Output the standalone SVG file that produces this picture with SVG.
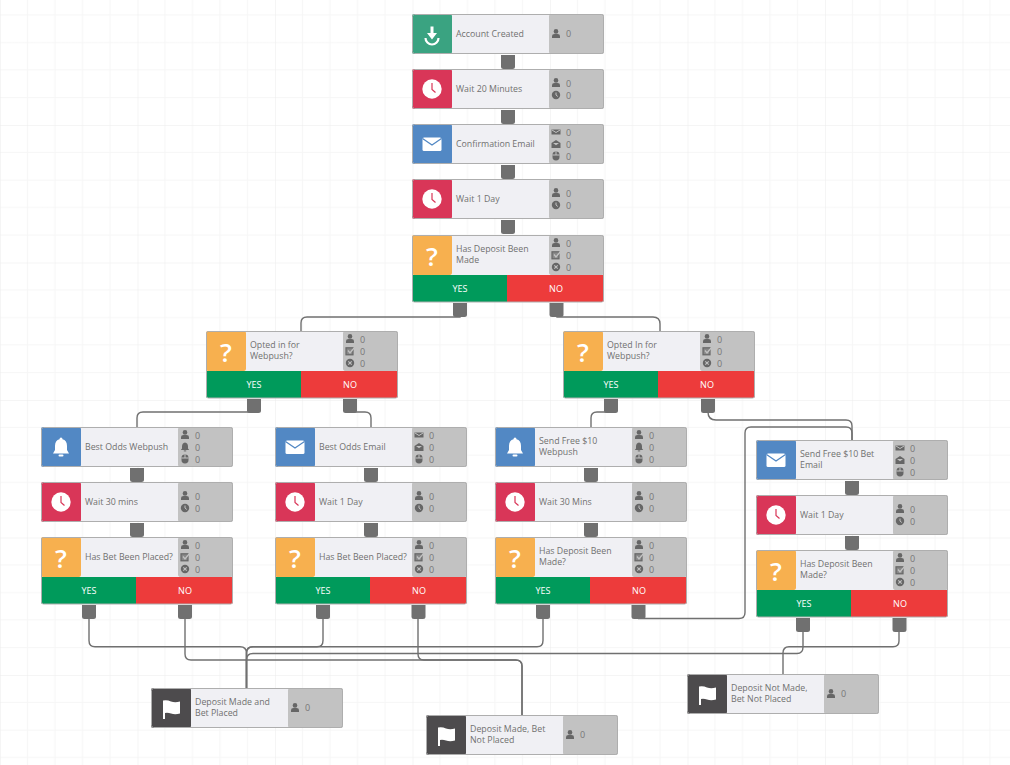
<svg xmlns="http://www.w3.org/2000/svg" width="1010" height="765" viewBox="0 0 1010 765">
<style>
.l{font:8.8px "Open Sans","Liberation Sans",sans-serif;fill:#707070}
.n{font:9px "Open Sans","Liberation Sans",sans-serif;fill:#777}
.b{font:9px "Open Sans","Liberation Sans",sans-serif;fill:#fff;text-anchor:middle}
.q{font:600 26px "Open Sans","Liberation Sans",sans-serif;fill:#fff;text-anchor:middle}
.c{fill:none;stroke:#707070;stroke-width:1.4}
.s{fill:#707070}
.fr{fill:none;stroke:#aeaeae;stroke-width:1}
.lb{fill:#f0f0f4}.st{fill:#c2c2c2}
.i{fill:#666}.w{fill:#fff}
</style>
<defs>
<pattern id="grid" width="137.5" height="137.5" patternUnits="userSpaceOnUse" y="-12.5">
<path d="M27.5 0V137.5M55 0V137.5M82.5 0V137.5M110 0V137.5M0 27.5H137.5M0 55H137.5M0 82.5H137.5M0 110H137.5" stroke="#f6f6f6" fill="none"/>
<path d="M0 0V137.5M0 0H137.5" stroke="#ececec" fill="none"/>
</pattern>
<g id="person"><circle cx="0" cy="-2.6" r="2.3" class="i"/><path class="i" d="M-4 4V2.2Q-4 0 -1.5 0H1.5Q4 0 4 2.2V4Z"/></g>
<g id="sclock"><circle r="4.2" class="i"/><path d="M0-2.5V0L1.8 1.5" stroke="#c2c2c2" fill="none"/></g>
<g id="smail"><path class="i" d="M-4.5-2.5H4.5V2.500H-4.5Z"/><path d="M-4-2L0 .5L4-2" stroke="#c2c2c2" fill="none"/></g>
<g id="sopen"><path class="i" d="M-4.5-1L0-4L4.5-1V4H-4.5Z"/><path d="M-3-1H3L0 1.2Z" fill="#c2c2c2"/></g>
<g id="smouse"><rect x="-3.5" y="-4.5" width="7" height="9" rx="3.4" class="i"/><path d="M-3.5-1H3.5M0-4.5V-1" stroke="#c2c2c2" fill="none"/></g>
<g id="sbell"><path class="i" d="M0-4.5Q3-4 3-.5V1.5L4.2 3H-4.2L-3 1.5V-.5Q-3-4 0-4.5Z"/><rect x="-1.2" y="3.4" width="2.4" height="1" class="i"/></g>
<g id="scheck"><rect x="-4" y="-3.2" width="7" height="7" fill="#888" stroke="#666" stroke-width="1.2"/><path d="M-2-.5L0 2L4-3" stroke="#c2c2c2" stroke-width="1.3" fill="none"/></g>
<g id="sx"><circle r="4.2" class="i"/><path d="M-1.7-1.7L1.7 1.7M1.7-1.7L-1.7 1.7" stroke="#c2c2c2" stroke-width="1.1"/></g>
<g id="base"><rect x="40" width="97" height="40" class="lb"/><rect x="137" width="55" height="40" rx="2" class="st"/></g>
<g id="clock"><circle cx="20" cy="20" r="9.7" class="w"/><path d="M20 14V20.5L23.5 23.5" stroke="#d93658" stroke-width="1.2" fill="none"/></g>
<g id="t-start"><use href="#base"/><rect width="40" height="40" rx="2" fill="#3aa381"/><path class="w" d="M18.500 12.500H21.500V19H25L20 25.500L15 19H18.500Z"/><path d="M13.500 24A6.500 6.500 0 0 0 26.500 24" stroke="#fff" stroke-width="2.200" fill="none"/><use href="#person" x="144" y="20"/><rect x=".5" y=".5" width="191" height="39" rx="2" class="fr"/></g>
<g id="t-wait"><use href="#base"/><rect width="40" height="40" rx="2" fill="#d93658"/><use href="#clock"/><use href="#person" x="144" y="14"/><use href="#sclock" x="144" y="26"/><rect x=".5" y=".5" width="191" height="39" rx="2" class="fr"/></g>
<g id="t-email"><use href="#base"/><rect width="40" height="40" rx="2" fill="#5288c4"/><rect x="10.500" y="13.500" width="19" height="13.500" rx="1.500" class="w"/><path d="M10.500 14.500L20 21L29.500 14.500" stroke="#5288c4" stroke-width="1.300" fill="none"/><use href="#smail" x="144" y="8"/><use href="#sopen" x="144" y="20"/><use href="#smouse" x="144" y="32"/><rect x=".5" y=".5" width="191" height="39" rx="2" class="fr"/></g>
<g id="t-bell"><use href="#base"/><rect width="40" height="40" rx="2" fill="#5288c4"/><path class="w" d="M20 10.500Q21.500 10.500 21.500 12.300Q26 13.500 26 19V23L28 26.500H12L14 23V19Q14 13.500 18.500 12.300Q18.500 10.500 20 10.500Z"/><rect x="17.500" y="27.500" width="5" height="2" rx="1" class="w"/><use href="#person" x="144" y="8"/><use href="#sbell" x="144" y="20"/><use href="#smouse" x="144" y="32"/><rect x=".5" y=".5" width="191" height="39" rx="2" class="fr"/></g>
<g id="t-q"><use href="#base"/><rect width="40" height="40" rx="2" fill="#f7b04f"/><path d="M2 40H95V67H2Q0 67 0 65V40Z" fill="#009a5b"/><path d="M95 40H192V65Q192 67 190 67H95Z" fill="#ed3b3b"/><use href="#person" x="144" y="8"/><use href="#scheck" x="144" y="20"/><use href="#sx" x="144" y="32"/><rect x=".5" y=".5" width="191" height="66.500" rx="2" class="fr"/></g>
<g id="t-end"><use href="#base"/><rect width="40" height="40" rx="2" fill="#4d4b4d"/><path class="w" d="M12 12.500Q16 11.500 20 13.500Q24 15 29 13.500V25.500Q24 27 20 25.500Q17 24.500 14 25V31H12Z"/><use href="#person" x="144" y="20"/><rect x=".5" y=".5" width="191" height="39" rx="2" class="fr"/></g>
<path id="stub" class="s" d="M-7 0H7V11.500Q7 14 4.500 14H-4.500Q-7 14 -7 11.500Z"/>
</defs>
<rect width="1010" height="765" fill="#fff"/>
<rect width="1010" height="765" fill="url(#grid)"/>
<g id="connectors">
<path class="c" d="M460 316V317H307Q301 317 301 323V331"/>
<path class="c" d="M557 316V317H653Q660 317 660 324V331"/>
<path class="c" d="M254 412H143Q137 412 137 418V427"/>
<path class="c" d="M350 412H365Q371 412 371 418V427"/>
<path class="c" d="M611 412H597Q591 412 591 418V427"/>
<path class="c" d="M708 412Q708 420 716 420H846Q852 420 852 426V440"/>
<path class="c" d="M638 618.500H739Q745 618.500 745 612.500V433Q745 427 751 427H846Q852 427 852 433V440"/>
<path class="c" d="M89 618V640.500Q89 646.700 95 646.700H240Q246.500 646.700 246.500 653V688"/>
<path class="c" d="M323 618V640.500Q323 646.700 317 646.700H253Q246.500 646.700 246.500 653V688"/>
<path class="c" d="M543 618V640.500Q543 646.700 537 646.700H253Q246.500 646.700 246.500 653V688"/>
<path class="c" d="M803 632V647Q803 653.500 797 653.500H253Q246.500 653.500 246.500 660V688"/>
<path class="c" d="M899 632V641Q899 646.700 893 646.700H789Q783 646.700 783 653V674"/>
<path class="c" d="M185 618V654Q185 660 191 660H515.500Q522 660 522 666V715"/>
<path class="c" d="M418 618V654Q418 660 424 660H515.500Q522 660 522 666V715"/>
<use href="#stub" x="508" y="55"/><use href="#stub" x="508" y="110"/><use href="#stub" x="508" y="165"/><use href="#stub" x="508" y="220"/>
<use href="#stub" x="460" y="303"/><use href="#stub" x="556.500" y="303"/>
<use href="#stub" x="254" y="399"/><use href="#stub" x="350" y="399"/><use href="#stub" x="611" y="399"/><use href="#stub" x="708" y="399"/>
<use href="#stub" x="137" y="468"/><use href="#stub" x="137" y="523"/><use href="#stub" x="371" y="468"/><use href="#stub" x="371" y="523"/><use href="#stub" x="591" y="468"/><use href="#stub" x="591" y="523"/>
<use href="#stub" x="852" y="481"/><use href="#stub" x="852" y="536"/>
<use href="#stub" x="89" y="605"/><use href="#stub" x="185" y="605"/><use href="#stub" x="323" y="605"/><use href="#stub" x="418.500" y="605"/><use href="#stub" x="543" y="605"/><use href="#stub" x="638.500" y="605"/><use href="#stub" x="803" y="618"/><use href="#stub" x="899.500" y="618"/>
</g>
<g id="n1" transform="translate(412,14)"><use href="#t-start"/><text class="l" x="44" y="23">Account Created</text><text class="n" x="154" y="23">0</text></g>
<g id="n2" transform="translate(412,69)"><use href="#t-wait"/><text class="l" x="44" y="23">Wait 20 Minutes</text><text class="n" x="154" y="17.500">0</text><text class="n" x="154" y="29.500">0</text></g>
<g id="n3" transform="translate(412,124)"><use href="#t-email"/><text class="l" x="44" y="23">Confirmation Email</text><text class="n" x="154" y="11.500">0</text><text class="n" x="154" y="23.500">0</text><text class="n" x="154" y="35.500">0</text></g>
<g id="n4" transform="translate(412,179)"><use href="#t-wait"/><text class="l" x="44" y="23">Wait 1 Day</text><text class="n" x="154" y="17.500">0</text><text class="n" x="154" y="29.500">0</text></g>
<g id="n5" transform="translate(412,235)"><use href="#t-q"/><text class="q" x="20" y="31">?</text><text class="l" x="44" y="17">Has Deposit Been</text><text class="l" x="44" y="28">Made</text><text class="n" x="154" y="11.500">0</text><text class="n" x="154" y="23.500">0</text><text class="n" x="154" y="35.500">0</text><text class="b" x="48" y="57">YES</text><text class="b" x="144" y="57">NO</text></g>
<g id="n6" transform="translate(206,331)"><use href="#t-q"/><text class="q" x="20" y="31">?</text><text class="l" x="44" y="17">Opted in for</text><text class="l" x="44" y="28">Webpush?</text><text class="n" x="154" y="11.500">0</text><text class="n" x="154" y="23.500">0</text><text class="n" x="154" y="35.500">0</text><text class="b" x="48" y="57">YES</text><text class="b" x="144" y="57">NO</text></g>
<g id="n7" transform="translate(563,331)"><use href="#t-q"/><text class="q" x="20" y="31">?</text><text class="l" x="44" y="17">Opted In for</text><text class="l" x="44" y="28">Webpush?</text><text class="n" x="154" y="11.500">0</text><text class="n" x="154" y="23.500">0</text><text class="n" x="154" y="35.500">0</text><text class="b" x="48" y="57">YES</text><text class="b" x="144" y="57">NO</text></g>
<g id="n8" transform="translate(41,427)"><use href="#t-bell"/><text class="l" x="44" y="23">Best Odds Webpush</text><text class="n" x="154" y="11.500">0</text><text class="n" x="154" y="23.500">0</text><text class="n" x="154" y="35.500">0</text></g>
<g id="n9" transform="translate(41,482)"><use href="#t-wait"/><text class="l" x="44" y="23">Wait 30 mins</text><text class="n" x="154" y="17.500">0</text><text class="n" x="154" y="29.500">0</text></g>
<g id="n10" transform="translate(41,537)"><use href="#t-q"/><text class="q" x="20" y="31">?</text><text class="l" x="44" y="23">Has Bet Been Placed?</text><text class="n" x="154" y="11.500">0</text><text class="n" x="154" y="23.500">0</text><text class="n" x="154" y="35.500">0</text><text class="b" x="48" y="57">YES</text><text class="b" x="144" y="57">NO</text></g>
<g id="n11" transform="translate(275,427)"><use href="#t-email"/><text class="l" x="44" y="23">Best Odds Email</text><text class="n" x="154" y="11.500">0</text><text class="n" x="154" y="23.500">0</text><text class="n" x="154" y="35.500">0</text></g>
<g id="n12" transform="translate(275,482)"><use href="#t-wait"/><text class="l" x="44" y="23">Wait 1 Day</text><text class="n" x="154" y="17.500">0</text><text class="n" x="154" y="29.500">0</text></g>
<g id="n13" transform="translate(275,537)"><use href="#t-q"/><text class="q" x="20" y="31">?</text><text class="l" x="44" y="23">Has Bet Been Placed?</text><text class="n" x="154" y="11.500">0</text><text class="n" x="154" y="23.500">0</text><text class="n" x="154" y="35.500">0</text><text class="b" x="48" y="57">YES</text><text class="b" x="144" y="57">NO</text></g>
<g id="n14" transform="translate(495,427)"><use href="#t-bell"/><text class="l" x="44" y="17">Send Free $10</text><text class="l" x="44" y="28">Webpush</text><text class="n" x="154" y="11.500">0</text><text class="n" x="154" y="23.500">0</text><text class="n" x="154" y="35.500">0</text></g>
<g id="n15" transform="translate(495,482)"><use href="#t-wait"/><text class="l" x="44" y="23">Wait 30 Mins</text><text class="n" x="154" y="17.500">0</text><text class="n" x="154" y="29.500">0</text></g>
<g id="n16" transform="translate(495,537)"><use href="#t-q"/><text class="q" x="20" y="31">?</text><text class="l" x="44" y="17">Has Deposit Been</text><text class="l" x="44" y="28">Made?</text><text class="n" x="154" y="11.500">0</text><text class="n" x="154" y="23.500">0</text><text class="n" x="154" y="35.500">0</text><text class="b" x="48" y="57">YES</text><text class="b" x="144" y="57">NO</text></g>
<g id="n17" transform="translate(756,440)"><use href="#t-email"/><text class="l" x="44" y="17">Send Free $10 Bet</text><text class="l" x="44" y="28">Email</text><text class="n" x="154" y="11.500">0</text><text class="n" x="154" y="23.500">0</text><text class="n" x="154" y="35.500">0</text></g>
<g id="n18" transform="translate(756,495)"><use href="#t-wait"/><text class="l" x="44" y="23">Wait 1 Day</text><text class="n" x="154" y="17.500">0</text><text class="n" x="154" y="29.500">0</text></g>
<g id="n19" transform="translate(756,550)"><use href="#t-q"/><text class="q" x="20" y="31">?</text><text class="l" x="44" y="17">Has Deposit Been</text><text class="l" x="44" y="28">Made?</text><text class="n" x="154" y="11.500">0</text><text class="n" x="154" y="23.500">0</text><text class="n" x="154" y="35.500">0</text><text class="b" x="48" y="57">YES</text><text class="b" x="144" y="57">NO</text></g>
<g id="n20" transform="translate(151,688)"><use href="#t-end"/><text class="l" x="44" y="17">Deposit Made and</text><text class="l" x="44" y="28">Bet Placed</text><text class="n" x="154" y="23">0</text></g>
<g id="n21" transform="translate(426,715)"><use href="#t-end"/><text class="l" x="44" y="17">Deposit Made, Bet</text><text class="l" x="44" y="28">Not Placed</text><text class="n" x="154" y="23">0</text></g>
<g id="n22" transform="translate(687,674)"><use href="#t-end"/><text class="l" x="44" y="17">Deposit Not Made,</text><text class="l" x="44" y="28">Bet Not Placed</text><text class="n" x="154" y="23">0</text></g>
</svg>
